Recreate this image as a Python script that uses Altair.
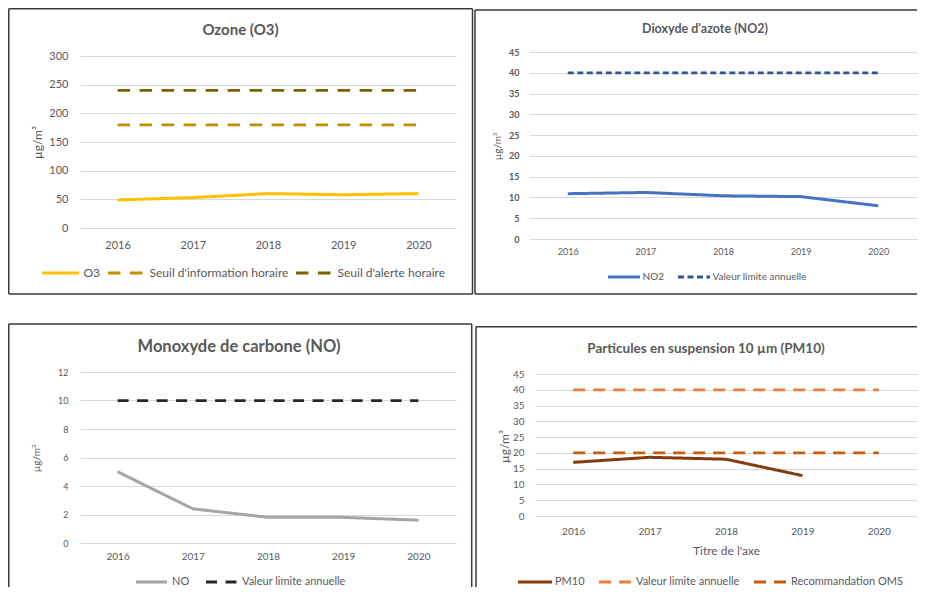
import altair as alt
import pandas as pd

# ---------------- data ----------------
years = ["2016", "2017", "2018", "2019", "2020"]

o3 = [49, 53, 60, 58, 60]
o3_info = [180, 180, 180, 180, 180]
o3_alert = [240, 240, 240, 240, 240]

no2 = [10.9, 11.2, 10.4, 10.2, 8.0]
no2_limit = [40, 40, 40, 40, 40]

no = [5.0, 2.4, 1.8, 1.8, 1.6]
no_limit = [10, 10, 10, 10, 10]

pm10 = [17.0, 18.6, 18.0, 12.8, None]
pm10_limit = [40, 40, 40, 40, 40]
pm10_oms = [20, 20, 20, 20, 20]

ticks_o3 = [0, 50, 100, 150, 200, 250, 300]
ticks_45 = [0, 5, 10, 15, 20, 25, 30, 35, 40, 45]
ticks_12 = [0, 2, 4, 6, 8, 10, 12]

TEXT = "#595959"
GRID = "#D9D9D9"
BORDER = "#3A3A3A"
BW = 1.5
FONT = "Lato"
UNIT = "µg/m³"

one = pd.DataFrame({"k": [0]})


def frame(series):
    rows = []
    for name, vals in series:
        for y, v in zip(years, vals):
            if v is not None:
                rows.append({"year": y, "value": v, "series": name})
    return pd.DataFrame(rows)


def hline(x1, x2, y):
    return alt.Chart(one).mark_rule(color=BORDER, strokeWidth=BW).encode(
        x=alt.value(x1), x2=alt.value(x2), y=alt.value(y))


def vline(x, y1, y2):
    return alt.Chart(one).mark_rule(color=BORDER, strokeWidth=BW).encode(
        x=alt.value(x), y=alt.value(y1), y2=alt.value(y2))


def panel(s):
    names = [n for n, _ in s["main"]] + [n for n, _ in s["refs"]]
    legend = alt.Legend(
        title=None, orient="none", legendX=s["lx"], legendY=s["ly"],
        direction="horizontal", symbolType="stroke", symbolSize=s["ss"],
        symbolStrokeWidth=3, clipHeight=12, labelFont=FONT, labelFontSize=s["lf"],
        labelColor=TEXT, labelOffset=s["lo"], columnPadding=s["cp"], padding=0)

    xaxis_kw = dict(labelAngle=0, domain=False, ticks=False, grid=False,
                    labelFont=FONT, labelFontSize=s["xf"], labelColor=TEXT,
                    labelPadding=s["xp"])
    if "xtitle" in s:
        xaxis_kw.update(title=s["xtitle"], titleFont=FONT, titleFontSize=12,
                        titleFontWeight="normal", titleColor=TEXT,
                        titleY=s["xty"], titleBaseline="middle")
    else:
        xaxis_kw.update(title=None)

    x = alt.X("year:O", scale=alt.Scale(type="point", domain=years, padding=0.5),
              axis=alt.Axis(**xaxis_kw))
    y = alt.Y("value:Q",
              scale=alt.Scale(domain=[0, s["ymax"]], range=s["yrange"], nice=False),
              axis=alt.Axis(values=s["yticks"], grid=True, gridColor=GRID, gridWidth=1,
                            domain=False, ticks=False, labelFont=FONT,
                            labelFontSize=s["yf"], labelFontWeight=s["yw"],
                            labelColor=TEXT, labelPadding=s["yp"],
                            title=UNIT, titleFont=FONT, titleFontSize=s["ytf"],
                            titleFontWeight="normal", titleColor=TEXT,
                            titleAngle=270, titleBaseline="middle", titleAlign="center",
                            titleX=s["ytx"], titleY=s["yty"]))
    color = alt.Color("series:N", scale=alt.Scale(domain=names, range=s["colors"]),
                      legend=legend)
    dash = alt.StrokeDash("series:N", scale=alt.Scale(domain=names, range=s["dashes"]),
                          legend=legend)

    main = alt.Chart(frame(s["main"])).mark_line(strokeWidth=3).encode(
        x=x, y=y, color=color, strokeDash=dash)
    refs = alt.Chart(frame(s["refs"])).mark_line(strokeWidth=2.75).encode(
        x=x, y=y, color=color, strokeDash=dash)
    title = alt.Chart(one).mark_text(
        text=s["title"], font=FONT, fontSize=s["tf"], fontWeight="bold", color=TEXT,
        align="center", baseline="middle").encode(
        x=alt.value(s["tx"]), y=alt.value(s["ty"]))
    layers = [refs, main, title] + s["border"]
    return alt.layer(*layers).properties(width=s["w"], height=s["h"])


# panel 1: view origin (80, 56)
p1 = panel(dict(
    main=[("O3", o3)],
    refs=[("Seuil d'information horaire", o3_info), ("Seuil d'alerte horaire", o3_alert)],
    colors=["#FFC000", "#BF9000", "#7F6000"],
    dashes=[[1, 0], [12.5, 9.5], [12.5, 9.5]],
    w=376, h=172, ymax=300, yrange=[172, 0], yticks=ticks_o3,
    yf=11, yw="normal", yp=12, xf=11, xp=11,
    ytf=12, ytx=-43, yty=86,
    title="Ozone (O3)", tf=15, tx=160.5, ty=-26,
    lx=-39.5, ly=211, ss=1369, lf=12, lo=3, cp=6,
    border=[hline(-71.25, 392.5, -47.25), hline(-71.25, 392.5, 238),
            vline(-71.25, -47.25, 238), vline(392.5, -47.25, 238)],
))

# panel 2: view origin (529, 56), 45-line at 52
p2 = panel(dict(
    main=[("NO2", no2)],
    refs=[("Valeur limite annuelle", no2_limit)],
    colors=["#4472C4", "#2F5597"],
    dashes=[[1, 0], [6, 3.5]],
    w=388, h=183, ymax=45, yrange=[183, -4], yticks=ticks_45,
    yf=9, yw="bold", yp=10, xf=9, xp=8,
    ytf=10, ytx=-32, yty=90,
    title="Dioxyde d'azote (NO2)", tf=12.5, tx=176, ty=-27,
    lx=77.5, ly=215, ss=1024, lf=10, lo=1, cp=12,
    border=[hline(-54, 388, -46), hline(-54, 388, 238), vline(-54, -46, 238)],
))

# panel 3: view origin (80, 372)
p3 = panel(dict(
    main=[("NO", no)],
    refs=[("Valeur limite annuelle", no_limit)],
    colors=["#A5A5A5", "#262626"],
    dashes=[[1, 0], [11, 8.5]],
    w=376, h=171, ymax=12, yrange=[171, 0], yticks=ticks_12,
    yf=9, yw="normal", yp=12, xf=10, xp=8.5,
    ytf=10, ytx=-44, yty=86,
    title="Monoxyde de carbone (NO)", tf=16.5, tx=159, ty=-25,
    lx=54.5, ly=204, ss=961, lf=11, lo=3.5, cp=15,
    border=[hline(-71.25, 391.7, -48), vline(-71.25, -48, 215), vline(391.7, -48, 215)],
))

# panel 4: view origin (535, 372), 45-line at 374
p4 = panel(dict(
    main=[("PM10", pm10)],
    refs=[("Valeur limite annuelle", pm10_limit), ("Recommandation OMS", pm10_oms)],
    colors=["#843C0C", "#ED7D31", "#C55A11"],
    dashes=[[1, 0], [12, 8], [12, 8]],
    w=382, h=144, ymax=45, yrange=[144, 2], yticks=ticks_45,
    yf=10, yw="normal", yp=11, xf=10, xp=10.5,
    xtitle="Titre de l'axe", xty=34,
    ytf=12, ytx=-31, yty=74,
    title="Particules en suspension 10 µm (PM10)", tf=13.5, tx=171, ty=-23,
    lx=-18.5, ly=204, ss=1156, lf=11, lo=1.5, cp=12,
    border=[hline(-59, 382, -45.3), vline(-59, -45.3, 215)],
))

row1 = alt.hconcat(p1, p2, spacing=0).resolve_scale(color="independent", strokeDash="independent")
row2 = alt.hconcat(p3, p4, spacing=2).resolve_scale(color="independent", strokeDash="independent")

chart = alt.vconcat(row1, row2, spacing=28).resolve_scale(
    color="independent", strokeDash="independent"
).properties(padding=0).configure_view(strokeWidth=0)

chart.save("out.html", embed_options={"renderer": "svg", "actions": False})
